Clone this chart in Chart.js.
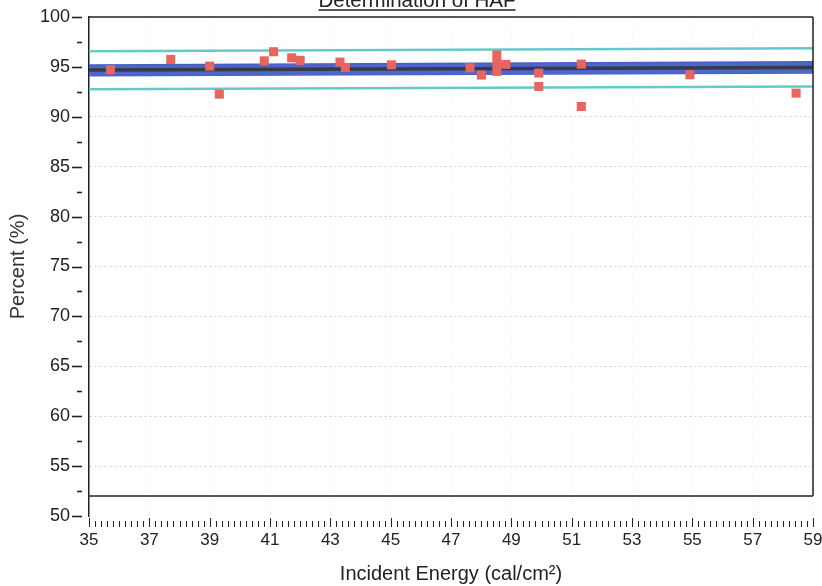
<!DOCTYPE html>
<html><head><meta charset="utf-8">
<script src="https://cdn.jsdelivr.net/npm/chart.js@4.4.1/dist/chart.umd.min.js"></script>
<style>html,body{margin:0;padding:0;background:#fff}#wrap{width:822px;height:586px}</style>
</head><body><div id="wrap"><canvas id="c" width="822" height="586"></canvas></div>
<script>
const titleText = 'Determination of HAF';
const xTitle = 'Incident Energy (cal/cm²)';
const yTitle = 'Percent (%)';

// measured points
const energy  = [35.71, 37.71, 39.00, 39.32, 40.81, 41.12, 41.72, 42.00, 43.32, 43.50, 45.03,
                 47.63, 48.01, 48.52, 48.52, 48.52, 48.82, 49.91, 49.91, 51.32, 51.32, 54.92, 58.44];
const percent = [94.71, 95.75, 95.08, 92.27, 95.61, 96.52, 95.91, 95.65, 95.48, 94.95, 95.21,
                 94.91, 94.18, 96.20, 95.40, 94.55, 95.25, 94.38, 93.04, 95.28, 91.03, 94.21, 92.37];

// fitted line and bands (ends of range)
const fitX      = [35, 59];
const fitLine   = [94.68, 94.95];
const confUpper = [95.18, 95.51];
const confLower = [94.11, 94.38];
const predUpper = [96.56, 96.86];
const predLower = [92.77, 93.04];
const baseLineY = [52, 52];

const xRange = [35, 59];
const yRange = [50, 100];
const xStep = 2, yStep = 5;

const pts = (xs, ys) => xs.map((x, i) => ({x, y: ys[i]}));

const FONT = "'Liberation Sans', Arial, sans-serif";

const decor = {
  id: 'decor',
  afterDraw(chart) {
    const ctx = chart.ctx, a = chart.chartArea;
    const xs = chart.scales.x, ys = chart.scales.y;
    ctx.save();
    ctx.strokeStyle = '#222';
    ctx.lineWidth = 1.5;
    ctx.beginPath();
    ctx.moveTo(a.left, a.top); ctx.lineTo(a.right, a.top);
    ctx.moveTo(a.right, a.top); ctx.lineTo(a.right, ys.getPixelForValue(baseLineY[0]));
    ctx.stroke();
    ctx.lineWidth = 1.6;
    for (let v = yRange[0]; v <= yRange[1] + 1e-6; v += yStep / 2) {
      const y = Math.round(ys.getPixelForValue(v)) + 0.5;
      const major = Math.abs(v / yStep - Math.round(v / yStep)) < 1e-6;
      ctx.beginPath();
      ctx.moveTo(a.left - (major ? 17 : 12), y);
      ctx.lineTo(a.left - 7, y);
      ctx.stroke();
    }
    ctx.lineWidth = 1;
    const n = Math.round((xRange[1] - xRange[0]) / 0.2);
    for (let i = 0; i <= n; i++) {
      const v = xRange[0] + i * 0.2;
      const x = Math.round(xs.getPixelForValue(v)) + 0.5;
      const major = i % 10 === 0;
      ctx.beginPath();
      ctx.moveTo(x, a.bottom + (major ? 2 : 5));
      ctx.lineTo(x, a.bottom + 11);
      ctx.stroke();
    }
    ctx.fillStyle = '#222';
    ctx.font = '20.5px ' + FONT;
    ctx.textAlign = 'center';
    ctx.textBaseline = 'alphabetic';
    const cx = 417;
    ctx.fillText(titleText, cx, 7);
    const w = ctx.measureText(titleText).width;
    ctx.lineWidth = 1.5;
    ctx.beginPath();
    ctx.moveTo(cx - w / 2, 10); ctx.lineTo(cx + w / 2, 10);
    ctx.stroke();
    ctx.restore();
  }
};

new Chart(document.getElementById('c'), {
  type: 'scatter',
  data: {
    datasets: [
      { type: 'line', data: pts(fitX, confUpper), borderColor: '#4760c4', borderWidth: 1.5,
        backgroundColor: '#4d66ca', fill: '+1', pointRadius: 0, order: 5 },
      { type: 'line', data: pts(fitX, confLower), borderColor: '#4760c4', borderWidth: 1.5,
        pointRadius: 0, fill: false, order: 5 },
      { type: 'line', data: pts(fitX, fitLine), borderColor: '#383a4a', borderWidth: 3.5,
        pointRadius: 0, fill: false, order: 4 },
      { type: 'line', data: pts(fitX, predUpper), borderColor: '#66c9c9', borderWidth: 2.5,
        pointRadius: 0, fill: false, order: 4 },
      { type: 'line', data: pts(fitX, predLower), borderColor: '#66c9c9', borderWidth: 2.5,
        pointRadius: 0, fill: false, order: 4 },
      { type: 'line', data: pts(xRange, baseLineY), borderColor: '#222', borderWidth: 1.5,
        pointRadius: 0, fill: false, order: 3 },
      { type: 'scatter', data: pts(energy, percent), pointStyle: 'rect', pointRadius: 6.4,
        pointHoverRadius: 6.4, backgroundColor: '#e8655f', borderWidth: 0, order: 1 }
    ]
  },
  options: {
    responsive: false,
    animation: false,
    devicePixelRatio: 1,
    layout: { padding: { top: 17, right: 9, left: 0, bottom: 0 } },
    plugins: { legend: { display: false }, tooltip: { enabled: false } },
    scales: {
      x: {
        type: 'linear', min: xRange[0], max: xRange[1],
        ticks: { stepSize: xStep, font: { size: 17, family: FONT }, color: '#222', padding: 14, maxRotation: 0 },
        grid: { color: 'rgba(0,0,0,0.04)', drawTicks: false },
        border: { display: false, dash: [2, 3] },
        title: { display: true, text: xTitle, font: { size: 20, family: FONT }, color: '#222', padding: { top: 1, bottom: 0 } },
        afterFit(s) { s.height = 70; s.paddingLeft = 0; s.paddingRight = 0; }
      },
      y: {
        type: 'linear', min: yRange[0], max: yRange[1],
        ticks: { stepSize: yStep, font: { size: 18, family: FONT }, color: '#222', padding: 19 },
        grid: { drawTicks: false,
          color: c => (c.tick && (c.tick.value === yRange[0] || c.tick.value === yRange[1])) ? 'rgba(0,0,0,0)' : 'rgba(0,0,0,0.18)' },
        border: { display: true, color: '#222', width: 1.5, dash: [2, 3] },
        title: { display: true, text: yTitle, font: { size: 20, family: FONT }, color: '#333', padding: { top: 6, bottom: 0 } },
        afterFit(s) { s.width = 89; s.paddingTop = 0; s.paddingBottom = 0; }
      }
    }
  },
  plugins: [decor]
});
</script>
</body></html>
